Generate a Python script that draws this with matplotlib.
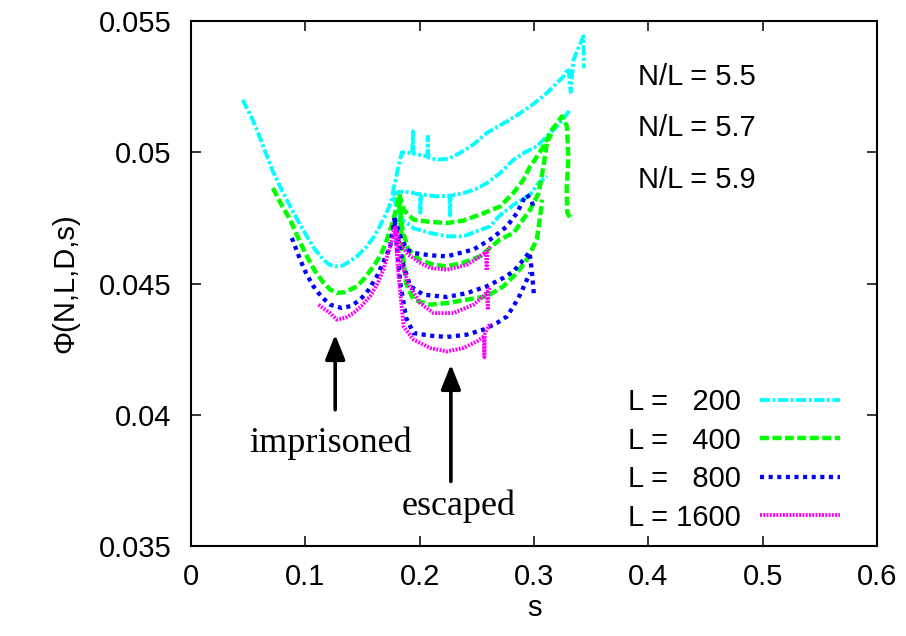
"""Phi(N,L,D,s) against s: imprisoned and escaped branches for several L."""

import matplotlib

matplotlib.use("Agg")
import matplotlib.pyplot as plt

plt.rcParams.update(
    {
        "font.family": ["Liberation Sans", "DejaVu Sans"],
        "font.size": 21,
        "axes.linewidth": 1.5,
        "xtick.direction": "in",
        "ytick.direction": "in",
        "xtick.top": True,
        "ytick.right": True,
        "xtick.major.size": 7,
        "ytick.major.size": 7,
        "xtick.major.width": 1.1,
        "ytick.major.width": 1.1,
    }
)

X_TICKS = [0, 0.1, 0.2, 0.3, 0.4, 0.5, 0.6]
X_TICK_LABELS = ["0", "0.1", "0.2", "0.3", "0.4", "0.5", "0.6"]
Y_TICKS = [0.035, 0.04, 0.045, 0.05, 0.055]
Y_TICK_LABELS = ["0.035", "0.04", "0.045", "0.05", "0.055"]

L_VALUES = [200, 400, 800, 1600]
LEGEND_LABELS = ["L =   200", "L =   400", "L =   800", "L = 1600"]
NL_VALUES = ["5.5", "5.7", "5.9"]

# imprisoned branches
S_IMP_200 = [0.045, 0.052, 0.0575, 0.065, 0.072, 0.080, 0.0866, 0.094, 0.1012, 0.108, 0.1158,
             0.121, 0.126, 0.132, 0.139, 0.146, 0.1537, 0.161, 0.168, 0.173, 0.177]
PHI_IMP_200 = [0.0520, 0.0514, 0.05086, 0.0500, 0.04922, 0.0485, 0.04794, 0.04735, 0.0468, 0.04632,
               0.04591, 0.04572, 0.04566, 0.04568, 0.04585, 0.04608, 0.04642, 0.04685, 0.04744,
               0.0479, 0.04845]
S_IMP_400 = [0.0715, 0.079, 0.0866, 0.094, 0.1012, 0.108, 0.1158, 0.1215, 0.1275, 0.135, 0.145,
             0.152, 0.1595, 0.166, 0.1712, 0.176, 0.180, 0.182]
PHI_IMP_400 = [0.04864, 0.0480, 0.04744, 0.0467, 0.04604, 0.0455, 0.04503, 0.04478, 0.04465,
               0.04468, 0.0449, 0.04522, 0.04566, 0.0461, 0.04668, 0.0473, 0.04794, 0.0484]
S_IMP_800 = [0.0881, 0.0954, 0.101, 0.107, 0.114, 0.1216, 0.1318, 0.140, 0.1479, 0.155, 0.1625,
             0.169, 0.1741, 0.178]
PHI_IMP_800 = [0.04674, 0.04591, 0.04535, 0.0449, 0.0445, 0.0442, 0.04407, 0.04415, 0.04439,
               0.04475, 0.04528, 0.0459, 0.04642, 0.0475]
S_IMP_1600 = [0.1114, 0.117, 0.1216, 0.1275, 0.135, 0.142, 0.149, 0.1566, 0.163, 0.1682, 0.174,
              0.1785]
PHI_IMP_1600 = [0.0442, 0.04402, 0.04388, 0.04363, 0.0437, 0.04388, 0.04415, 0.04452, 0.0450,
                0.04553, 0.04642, 0.0472]

# escaped branches, L = 200
S_ESC_200_55 = [0.176, 0.181, 0.1843, 0.189, 0.1935, 0.194, 0.1945, 0.200, 0.2065, 0.207, 0.2075,
                0.215, 0.225, 0.2353, 0.247, 0.2587, 0.269, 0.2791, 0.288, 0.2966, 0.304, 0.3112,
                0.319, 0.3257, 0.330, 0.332, 0.3345, 0.339, 0.3432, 0.3436]
PHI_ESC_200_55 = [0.0484, 0.0494, 0.0500, 0.0500, 0.04995, 0.0508, 0.04995, 0.0499, 0.04985,
                  0.0506, 0.0498, 0.04972, 0.04975, 0.04998, 0.0503, 0.05074, 0.0510, 0.05125,
                  0.0515, 0.05175, 0.0520, 0.05226, 0.0526, 0.05289, 0.0532, 0.0523, 0.05353,
                  0.0540, 0.05442, 0.0532]
S_ESC_200_57 = [0.177, 0.182, 0.187, 0.1945, 0.200, 0.2005, 0.201, 0.215, 0.226, 0.2265, 0.227,
                0.2382, 0.249, 0.2587, 0.270, 0.282, 0.292, 0.3024, 0.311, 0.320, 0.326, 0.3316]
PHI_ESC_200_57 = [0.0484, 0.0485, 0.0485, 0.04845, 0.0484, 0.0477, 0.0484, 0.04832, 0.04835,
                  0.0476, 0.04835, 0.04845, 0.0486, 0.04883, 0.0492, 0.04972, 0.0500, 0.05023,
                  0.0506, 0.05099, 0.0513, 0.05163]
S_ESC_200_59 = [0.177, 0.183, 0.195, 0.209, 0.225, 0.238, 0.250, 0.2616, 0.270, 0.282, 0.2966,
                0.3039, 0.3112]
PHI_ESC_200_59 = [0.0483, 0.0475, 0.0471, 0.04693, 0.0468, 0.0468, 0.0470, 0.04718, 0.0476,
                  0.0480, 0.0484, 0.04883, 0.04909]

# escaped branches, L = 400
S_ESC_400_55 = [0.182, 0.186, 0.1945, 0.209, 0.2237, 0.238, 0.2528, 0.2703, 0.282, 0.2907,
                0.2966, 0.302, 0.3082, 0.3156, 0.320, 0.3243, 0.3287, 0.330, 0.3285, 0.329, 0.333]
PHI_ESC_400_55 = [0.0484, 0.0478, 0.04744, 0.04735, 0.04731, 0.0474, 0.04763, 0.04794, 0.04846,
                  0.04896, 0.04947, 0.0498, 0.05023, 0.05086, 0.0511, 0.05137, 0.0510, 0.0498,
                  0.0486, 0.0477, 0.0474]
S_ESC_400_57 = [0.182, 0.185, 0.190, 0.200, 0.212, 0.2237, 0.238, 0.2528, 0.270, 0.282, 0.2966,
                0.304, 0.3082, 0.3112, 0.315]
PHI_ESC_400_57 = [0.0483, 0.0470, 0.0463, 0.0459, 0.04572, 0.04566, 0.0458, 0.04604, 0.04668,
                  0.04693, 0.04782, 0.04845, 0.04947, 0.05036, 0.0507]
S_ESC_400_59 = [0.182, 0.185, 0.188, 0.1945, 0.209, 0.2237, 0.2412, 0.2587, 0.2732, 0.285,
                0.2937, 0.3024, 0.3053, 0.307]
PHI_ESC_400_59 = [0.0480, 0.0462, 0.0450, 0.04439, 0.0442, 0.04426, 0.04439, 0.04452, 0.0449,
                  0.04541, 0.04591, 0.04668, 0.04756, 0.0482]

# escaped branches, L = 800
S_ESC_800_55 = [0.178, 0.183, 0.1887, 0.1945, 0.209, 0.2237, 0.247, 0.2616, 0.2762, 0.285,
                0.2907, 0.2937, 0.297, 0.300]
PHI_ESC_800_55 = [0.0475, 0.0468, 0.0463, 0.04617, 0.04608, 0.04604, 0.0463, 0.04668, 0.04718,
                  0.04769, 0.0482, 0.04839, 0.0482, 0.0479]
S_ESC_800_57 = [0.178, 0.185, 0.1916, 0.2032, 0.2237, 0.2412, 0.2587, 0.2732, 0.282, 0.2907,
                0.296, 0.298, 0.300]
PHI_ESC_800_57 = [0.0474, 0.0458, 0.0449, 0.04458, 0.04449, 0.04464, 0.0449, 0.04522, 0.04547,
                  0.04591, 0.0462, 0.0455, 0.0445]
S_ESC_800_59 = [0.178, 0.183, 0.188, 0.1945, 0.209, 0.2237, 0.2412, 0.2557, 0.2674, 0.2762,
                0.282, 0.288, 0.2937, 0.2966]
PHI_ESC_800_59 = [0.0473, 0.0450, 0.0437, 0.04312, 0.04302, 0.04297, 0.04306, 0.04325, 0.0435,
                  0.04375, 0.04414, 0.0446, 0.04515, 0.04541]

# escaped branches, L = 1600
S_ESC_1600_55 = [0.1785, 0.182, 0.190, 0.200, 0.209, 0.2237, 0.2412, 0.2528, 0.258, 0.2585,
                 0.259, 0.2616]
PHI_ESC_1600_55 = [0.0472, 0.0466, 0.0461, 0.0458, 0.0456, 0.04553, 0.04572, 0.04604, 0.0462,
                   0.0455, 0.0462, 0.04642]
S_ESC_1600_57 = [0.1785, 0.182, 0.190, 0.2003, 0.212, 0.2295, 0.247, 0.2557, 0.259, 0.2595,
                 0.260, 0.2616]
PHI_ESC_1600_57 = [0.0471, 0.0460, 0.0450, 0.04426, 0.04388, 0.04388, 0.0442, 0.04452, 0.0447,
                   0.0440, 0.0447, 0.0449]
S_ESC_1600_59 = [0.1785, 0.181, 0.1858, 0.1945, 0.209, 0.2237, 0.2382, 0.250, 0.256, 0.2565,
                 0.257, 0.2587, 0.2616]
PHI_ESC_1600_59 = [0.0470, 0.0455, 0.04337, 0.04287, 0.04255, 0.04242, 0.04255, 0.0428, 0.0430,
                   0.0422, 0.0431, 0.04325, 0.0435]

BRANCHES = {
    200: [(S_IMP_200, PHI_IMP_200), (S_ESC_200_55, PHI_ESC_200_55),
          (S_ESC_200_57, PHI_ESC_200_57), (S_ESC_200_59, PHI_ESC_200_59)],
    400: [(S_IMP_400, PHI_IMP_400), (S_ESC_400_55, PHI_ESC_400_55),
          (S_ESC_400_57, PHI_ESC_400_57), (S_ESC_400_59, PHI_ESC_400_59)],
    800: [(S_IMP_800, PHI_IMP_800), (S_ESC_800_55, PHI_ESC_800_55),
          (S_ESC_800_57, PHI_ESC_800_57), (S_ESC_800_59, PHI_ESC_800_59)],
    1600: [(S_IMP_1600, PHI_IMP_1600), (S_ESC_1600_55, PHI_ESC_1600_55),
           (S_ESC_1600_57, PHI_ESC_1600_57), (S_ESC_1600_59, PHI_ESC_1600_59)],
}

STYLES = {
    200: dict(color="#00ffff", lw=2.8, dashes=(2.6, 0.65, 0.75, 0.65)),
    400: dict(color="#00ff00", lw=3.2, dashes=(2.0, 0.8)),
    800: dict(color="#0000ff", lw=3.1, dashes=(0.95, 1.05)),
    1600: dict(color="#ff00ff", lw=2.8, dashes=(0.5, 0.34)),
}

fig = plt.figure(figsize=(9.06, 6.36), dpi=100)
ax = fig.add_axes([0.211, 0.141, 0.757, 0.826])

handles = []
for L, label in zip(L_VALUES, LEGEND_LABELS):
    for k, (s, phi) in enumerate(BRANCHES[L]):
        line, = ax.plot(s, phi, dash_capstyle="butt", solid_joinstyle="miter",
                        label=label if k == 0 else None, **STYLES[L])
        if k == 0:
            handles.append(line)

ax.set_xlim(0, 0.6)
ax.set_ylim(0.035, 0.055)
ax.set_xticks(X_TICKS, X_TICK_LABELS)
ax.set_yticks(Y_TICKS, Y_TICK_LABELS)
ax.tick_params(axis="x", pad=12)
ax.tick_params(axis="y", pad=14)
ax.set_xlabel("s", labelpad=2)
ax.set_ylabel("Φ(N,L,D,s)", labelpad=14)

ax.legend(handles=handles, loc="lower right", bbox_to_anchor=(0.946, 0.028),
          frameon=False, markerfirst=False, handlelength=2.75, handletextpad=0.65,
          labelspacing=0.36, borderpad=0, borderaxespad=0, fontsize=21)

for i, nl in enumerate(NL_VALUES):
    ax.text(0.391, 0.05258 - i * 0.00196, f"N/L = {nl}", ha="left", va="baseline", fontsize=21)

serif = ["Liberation Serif", "DejaVu Serif"]
arrow = dict(arrowstyle="-|>,head_length=0.75,head_width=0.3", mutation_scale=20,
             lw=2.6, color="black", shrinkA=0, shrinkB=0)
ax.annotate("", xy=(0.126, 0.04306), xytext=(0.126, 0.0402), arrowprops=arrow)
ax.annotate("", xy=(0.2272, 0.04192), xytext=(0.2272, 0.03747), arrowprops=arrow)
ax.text(0.1216, 0.03861, "imprisoned", family=serif, fontsize=26, ha="center", va="baseline")
ax.text(0.2336, 0.0362, "escaped", family=serif, fontsize=26, ha="center", va="baseline")

fig.savefig("out.png", dpi=100)
